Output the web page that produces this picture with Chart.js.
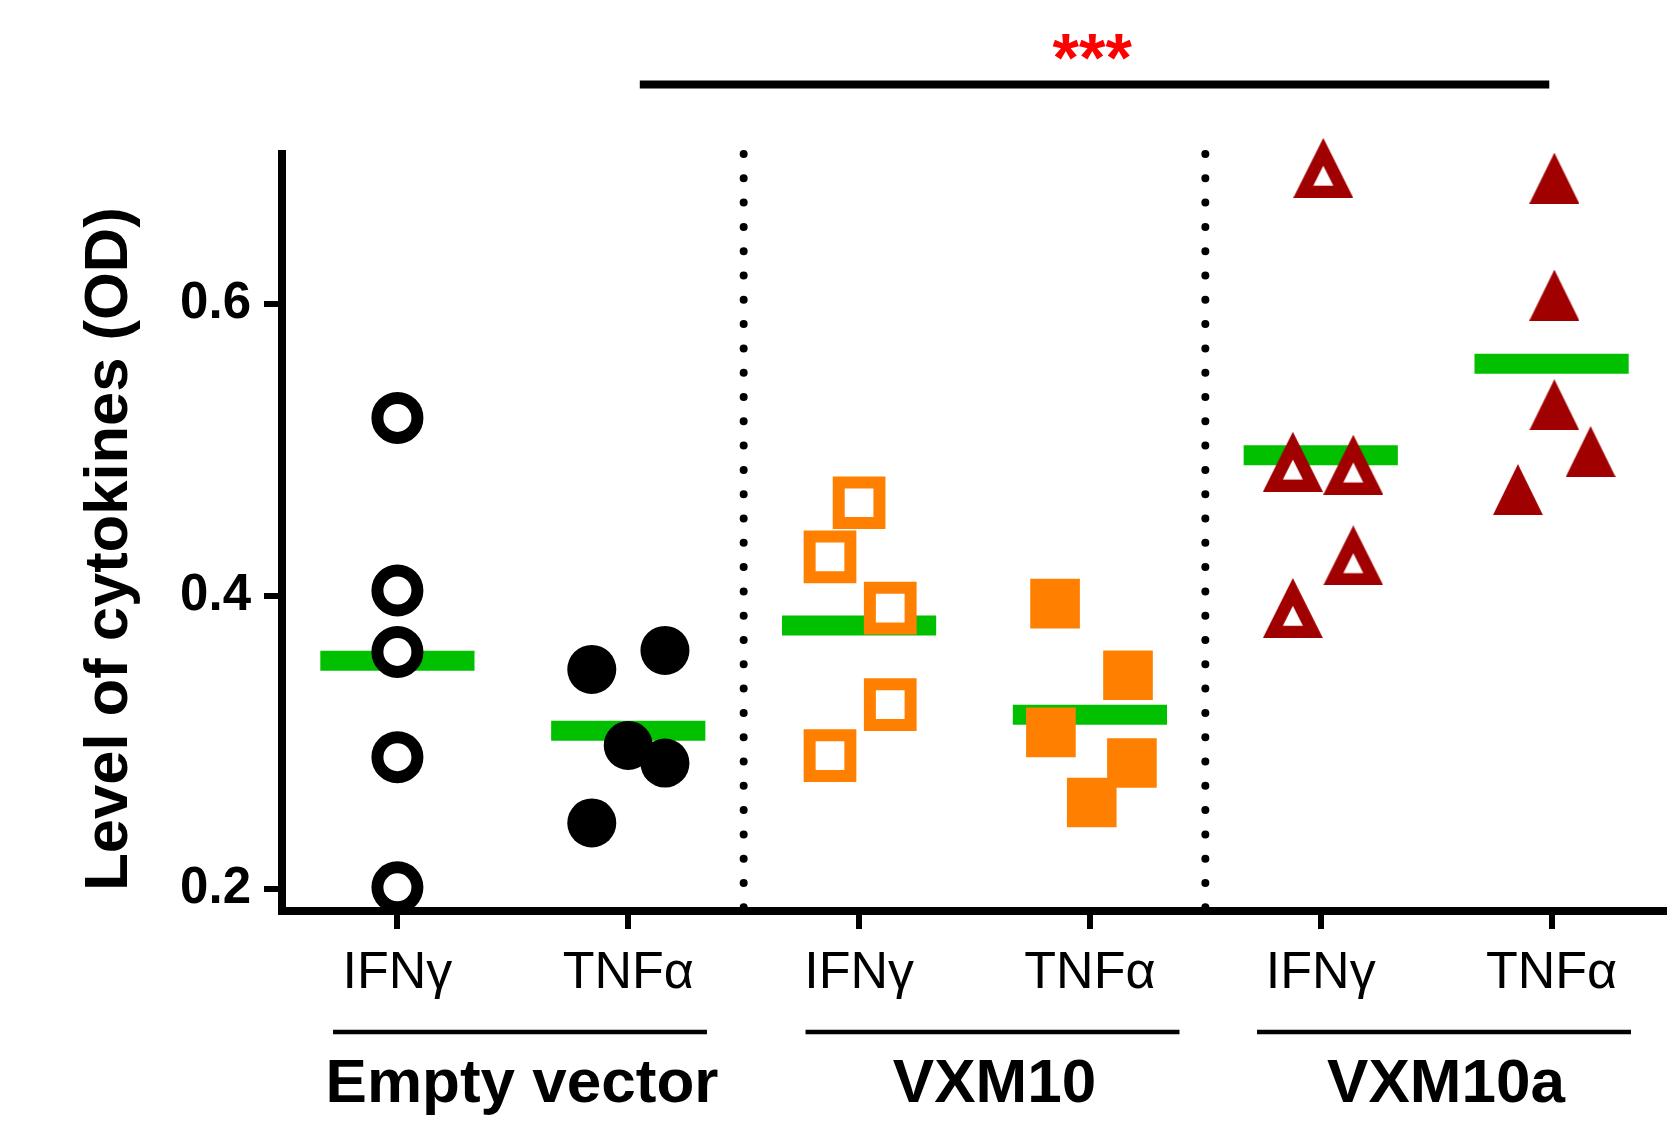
<!DOCTYPE html>
<html>
<head>
<meta charset="utf-8">
<script src="https://cdn.jsdelivr.net/npm/chart.js@4.4.1/dist/chart.umd.min.js"></script>
<style>
  html, body { margin: 0; padding: 0; background: #fff; overflow: hidden; }
  #wrap { width: 1667px; height: 1127px; position: relative; }
  canvas { display: block; }
</style>
</head>
<body>
<div id="wrap"><canvas id="c"></canvas></div>
<script>
// ---------------- data ----------------
const categories = ['IFNγ', 'TNFα', 'IFNγ', 'TNFα', 'IFNγ', 'TNFα'];
const groupNames = ['Empty vector', 'VXM10', 'VXM10a'];
const yTicks = [0.2, 0.4, 0.6];
const yTitle = 'Level of cytokines (OD)';

const emptyIFNg  = [0.522, 0.404, 0.362, 0.290, 0.201];
const emptyTNFa  = [0.350, 0.363, 0.298, 0.286, 0.245];
const vxm10IFNg  = [0.464, 0.427, 0.392, 0.326, 0.291];
const vxm10TNFa  = [0.395, 0.346, 0.307, 0.286, 0.259];
const vxm10aIFNg = [0.693, 0.492, 0.490, 0.428, 0.392];
const vxm10aTNFa = [0.686, 0.606, 0.531, 0.499, 0.473];
const groupMeans = [0.356, 0.308, 0.380, 0.319, 0.4965, 0.559];

const sigLabel = '***';
const sigValue = 0.75;
const sigFrom = 1.05, sigTo = 4.99;   // TNFα (Empty vector) to TNFα (VXM10a)

// ---------------- layout / style ----------------
const Y_MIN = 0.1848, Y_MAX = 0.7025;
const jitter = [
  [0, 0, 0, 0, 0],
  [-0.158, 0.159, 0, 0.159, -0.158],
  [0, -0.126, 0.135, 0.135, -0.126],
  [-0.151, 0.165, -0.169, 0.182, 0.008],
  [0.011, -0.121, 0.141, 0.141, -0.121],
  [0.012, 0.012, 0.012, 0.169, -0.146]
];
const meanHalfWidth = 0.334;
const dividers = [1.5, 3.5];
const groupCenters = [0.531, 2.578, 4.534];
const groupHalfWidth = 0.81;

const GREEN = '#00C000', ORANGE = '#FF8000', DARKRED = '#A00000';

function triCanvas(w, h, color, hole) {
  const c = document.createElement('canvas');
  c.width = w; c.height = h;
  const g = c.getContext('2d');
  g.fillStyle = color;
  g.beginPath(); g.moveTo(w / 2, 0); g.lineTo(w, h); g.lineTo(0, h); g.closePath(); g.fill();
  if (hole) {
    g.fillStyle = '#fff';
    g.beginPath();
    g.moveTo(w / 2, hole.top);
    g.lineTo(w / 2 + hole.half, hole.bottom);
    g.lineTo(w / 2 - hole.half, hole.bottom);
    g.closePath(); g.fill();
  }
  return c;
}
const openTri = triCanvas(60, 60, DARKRED, { top: 27.7, bottom: 47.7, half: 10 });
const fullTri = triCanvas(50, 51, DARKRED, null);

function pts(vals, cat) { return vals.map((v, i) => ({ x: cat + jitter[cat][i], y: v })); }

function markerSet(vals, cat, style) {
  return Object.assign({
    data: pts(vals, cat), showLine: false, order: 0, clip: false
  }, style);
}

const datasets = [
  markerSet(emptyIFNg, 0, { pointStyle: 'circle', pointRadius: 20, pointBorderWidth: 12, pointBorderColor: '#000', pointBackgroundColor: '#fff' }),
  markerSet(emptyTNFa, 1, { pointStyle: 'circle', pointRadius: 24.5, pointBorderWidth: 0, pointBorderColor: '#000', pointBackgroundColor: '#000' }),
  markerSet(vxm10IFNg, 2, { pointStyle: 'rect', pointRadius: 28.8, pointBorderWidth: 12, pointBorderColor: ORANGE, pointBackgroundColor: '#fff' }),
  markerSet(vxm10TNFa, 3, { pointStyle: 'rect', pointRadius: 35.1, pointBorderWidth: 0, pointBorderColor: ORANGE, pointBackgroundColor: ORANGE }),
  markerSet(vxm10aIFNg, 4, { pointStyle: openTri, pointRadius: 30, pointBorderWidth: 0 }),
  markerSet(vxm10aTNFa, 5, { pointStyle: fullTri, pointRadius: 25, pointBorderWidth: 0 })
];

groupMeans.forEach((m, i) => {
  datasets.push({
    data: [{ x: i - meanHalfWidth, y: m }, { x: i + meanHalfWidth, y: m }],
    showLine: true, borderColor: GREEN, borderWidth: 20, borderCapStyle: 'butt',
    pointRadius: 0, order: 1, clip: false, fill: false
  });
});

dividers.forEach(d => {
  datasets.push({
    data: [{ x: d, y: Y_MAX }, { x: d, y: Y_MIN }],
    showLine: true, borderColor: '#000', borderWidth: 8, borderDash: [0, 24.3],
    borderCapStyle: 'round', pointRadius: 0, order: 2, clip: false, fill: false
  });
});

datasets.push({
  data: [{ x: sigFrom, y: sigValue }, { x: sigTo, y: sigValue }],
  showLine: true, borderColor: '#000', borderWidth: 8, borderCapStyle: 'butt',
  pointRadius: 0, order: 2, clip: false, fill: false
});

const decor = {
  id: 'decor',
  afterDraw(chart) {
    const ctx = chart.ctx;
    const xs = chart.scales.x, ys = chart.scales.y;
    ctx.save();
    // significance asterisks
    ctx.fillStyle = '#FF0000';
    ctx.font = 'bold 68px "Liberation Sans"';
    ctx.textAlign = 'center';
    ctx.textBaseline = 'alphabetic';
    const m = ctx.measureText(sigLabel);
    const cy = ys.getPixelForValue(0.776);
    const base = cy - (m.actualBoundingBoxDescent - m.actualBoundingBoxAscent) / 2;
    ctx.fillText(sigLabel, xs.getPixelForValue(3.01), base);

    // group underlines and names
    ctx.fillStyle = '#000';
    ctx.strokeStyle = '#000';
    ctx.lineWidth = 4.5;
    groupNames.forEach((g, i) => {
      const x1 = xs.getPixelForValue(groupCenters[i] - groupHalfWidth);
      const x2 = xs.getPixelForValue(groupCenters[i] + groupHalfWidth);
      ctx.beginPath(); ctx.moveTo(x1, 1032); ctx.lineTo(x2, 1032); ctx.stroke();
      ctx.font = 'bold 62px "Liberation Sans"';
      ctx.textAlign = 'center';
      ctx.textBaseline = 'alphabetic';
      ctx.fillText(g, xs.getPixelForValue(groupCenters[i]) + 2, 1102);
    });

    // y axis title
    ctx.translate(127, 549);
    ctx.rotate(-Math.PI / 2);
    ctx.font = 'bold 61.5px "Liberation Sans"';
    ctx.textAlign = 'center';
    ctx.textBaseline = 'alphabetic';
    ctx.fillText(yTitle, 0, 0);
    ctx.restore();
  }
};

new Chart(document.getElementById('c'), {
  type: 'scatter',
  data: { datasets },
  options: {
    responsive: true,
    maintainAspectRatio: false,
    devicePixelRatio: 1,
    animation: false,
    events: [],
    layout: { autoPadding: false, padding: { top: 154, right: 0, bottom: 0, left: 0 } },
    plugins: { legend: { display: false }, tooltip: { enabled: false } },
    elements: { line: { tension: 0 } },
    scales: {
      x: {
        type: 'linear', min: -0.5, max: 5.5,
        afterBuildTicks: s => { s.ticks = categories.map((_, i) => ({ value: i })); },
        afterFit: s => { s.height = 216; s.paddingLeft = 0; s.paddingRight = 0; },
        ticks: {
          callback: v => categories[v] !== undefined ? categories[v] : '',
          font: { family: 'Liberation Sans', size: 52 },
          color: '#000', padding: 13, maxRotation: 0, autoSkip: false
        },
        grid: { display: true, drawOnChartArea: false, drawTicks: true, tickLength: 18, tickWidth: 6, tickColor: '#000', color: '#000', lineWidth: 6 },
        border: { display: true, width: 8, color: '#000' }
      },
      y: {
        type: 'linear', min: Y_MIN, max: Y_MAX,
        afterBuildTicks: s => { s.ticks = yTicks.map(v => ({ value: v })); },
        afterFit: s => { s.width = 282; s.paddingTop = 0; s.paddingBottom = 0; },
        ticks: {
          callback: v => v.toFixed(1),
          font: { family: 'Liberation Sans', size: 51, weight: 'bold' },
          color: '#000', padding: 13
        },
        grid: { display: true, drawOnChartArea: false, drawTicks: true, tickLength: 18, tickWidth: 6, tickColor: '#000', color: '#000', lineWidth: 6 },
        border: { display: true, width: 8, color: '#000' }
      }
    }
  },
  plugins: [decor]
});
</script>
</body>
</html>
